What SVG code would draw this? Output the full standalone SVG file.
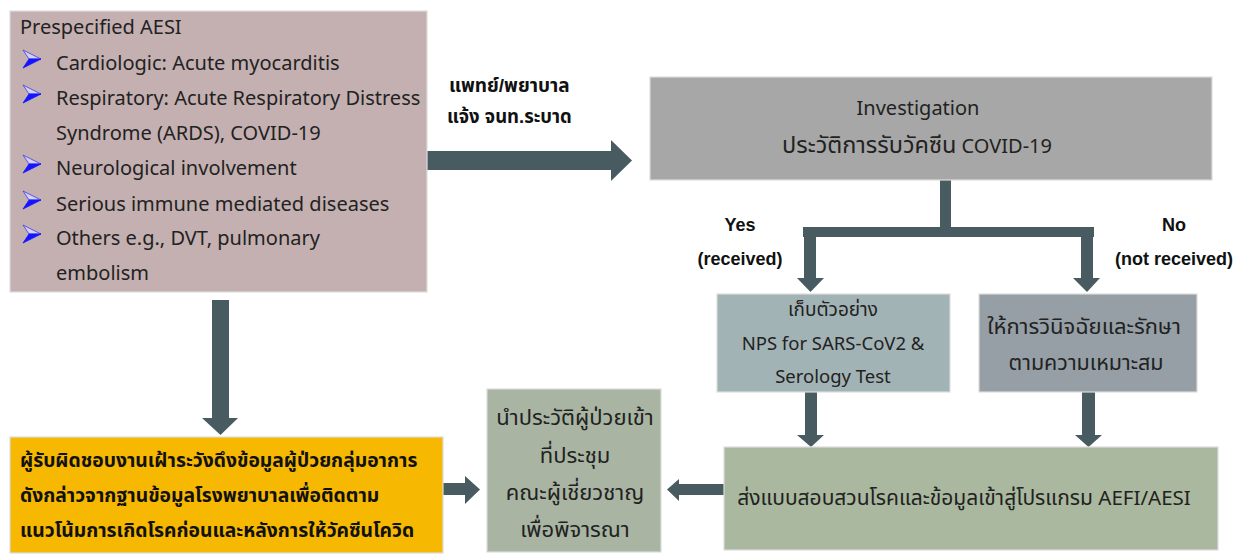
<svg xmlns="http://www.w3.org/2000/svg" width="1239" height="554" viewBox="0 0 1239 554">
<defs>
<style>
.t{font-family:"Noto Sans","Noto Sans Thai","Liberation Sans",sans-serif;fill:#222;}
.b{font-family:"Liberation Sans","Noto Sans Thai","Noto Sans",sans-serif;font-weight:bold;fill:#111;}
.m{text-anchor:middle;}
.arr{fill:#475b60;}
.box{stroke:#dcdcdc;stroke-width:1.2;}
</style>
<g id="bullet">
<polygon points="0,-9 18,0 6,0" fill="#d8d2f2" stroke="#3a3ae0" stroke-width="0.8"/>
<polygon points="6,0 18,0 0,9" fill="#1414ff" stroke="#1414ff" stroke-width="0.8"/>
</g>
</defs>
<rect width="1239" height="554" fill="#fff"/>

<g id="connectors">
<rect class="arr" x="427" y="151" width="184" height="19"/>
<polygon class="arr" points="611,140 632,160.5 611,181"/>
<rect class="arr" x="212" y="300" width="17" height="118"/>
<polygon class="arr" points="202,418 238,418 220.5,435"/>
<rect class="arr" x="940" y="180" width="11" height="48"/>
<rect class="arr" x="803" y="227" width="291" height="10"/>
<rect class="arr" x="804" y="236" width="12" height="42"/>
<polygon class="arr" points="797,278 824,278 810.5,292"/>
<rect class="arr" x="1081" y="236" width="12" height="42"/>
<polygon class="arr" points="1073,278 1100,278 1087,292"/>
<rect class="arr" x="805" y="392" width="12" height="43"/>
<polygon class="arr" points="797,435 824,435 811,447"/>
<rect class="arr" x="1082" y="392" width="13" height="43"/>
<polygon class="arr" points="1075,435 1102,435 1088.5,447"/>
<rect class="arr" x="443" y="483" width="23" height="12"/>
<polygon class="arr" points="465,476 480,489.5 465,504"/>
<rect class="arr" x="678" y="484" width="46" height="11"/>
<polygon class="arr" points="679,479 667,489.5 679,501"/>
<text class="b" x="449" y="92" font-size="19">แพทย์/พยาบาล</text>
<text class="b" x="447" y="123" font-size="18.5">แจ้ง จนท.ระบาด</text>
<text class="b" x="740" y="231" font-size="18" text-anchor="middle">Yes</text>
<text class="b" x="740" y="265" font-size="18" text-anchor="middle">(received)</text>
<text class="b" x="1174" y="231" font-size="18" text-anchor="middle">No</text>
<text class="b" x="1174" y="265" font-size="18" text-anchor="middle">(not received)</text>
</g>

<g id="aesi">
<rect class="box" x="10" y="11" width="417" height="281" fill="#c4b0b1"/>
<text class="t" x="20" y="34" font-size="20">Prespecified AESI</text>
<use href="#bullet" x="23" y="59"/>
<text class="t" x="56" y="70" font-size="20">Cardiologic: Acute myocarditis</text>
<use href="#bullet" x="23" y="94"/>
<text class="t" x="56" y="105" font-size="20">Respiratory: Acute Respiratory Distress</text>
<text class="t" x="56" y="140" font-size="20">Syndrome (ARDS), COVID-19</text>
<use href="#bullet" x="23" y="164"/>
<text class="t" x="56" y="175" font-size="20">Neurological involvement</text>
<use href="#bullet" x="23" y="200"/>
<text class="t" x="56" y="211" font-size="20">Serious immune mediated diseases</text>
<use href="#bullet" x="23" y="234"/>
<text class="t" x="56" y="245" font-size="20">Others e.g., DVT, pulmonary</text>
<text class="t" x="56" y="280" font-size="20">embolism</text>
</g>

<g id="investigation">
<rect class="box" x="650" y="77" width="562" height="103" fill="#a7a7a7"/>
<text class="t m" x="918" y="115" font-size="20">Investigation</text>
<text class="t m" x="917" y="153" font-size="20"><tspan font-size="23.5">ประวัติการรับวัคซีน</tspan> COVID-19</text>
</g>

<g id="sample">
<rect class="box" x="717" y="294" width="233" height="98" fill="#a2b3b5"/>
<text class="t m" x="833" y="316" font-size="19">เก็บตัวอย่าง</text>
<text class="t m" x="833" y="350" font-size="18.5">NPS for SARS-CoV2 &amp;</text>
<text class="t m" x="833" y="383" font-size="18.5">Serology Test</text>
</g>

<g id="treat">
<rect class="box" x="979" y="294" width="218" height="98" fill="#959fa5"/>
<text class="t m" x="1084" y="334" font-size="22">ให้การวินิจฉัยและรักษา</text>
<text class="t m" x="1086" y="370" font-size="21.5">ตามความเหมาะสม</text>
</g>

<g id="program">
<rect class="box" x="724" y="447" width="494" height="103" fill="#a9b89e"/>
<text class="t m" x="964" y="505" font-size="20.5"><tspan font-size="21">ส่งแบบสอบสวนโรคและข้อมูลเข้าสู่โปรแกรม</tspan> AEFI/AESI</text>
</g>

<g id="committee">
<rect class="box" x="487" y="389" width="174" height="163" fill="#a9b5a2"/>
<text class="t m" x="575" y="425" font-size="22">นำประวัติผู้ป่วยเข้า</text>
<text class="t m" x="575" y="463" font-size="22">ที่ประชุม</text>
<text class="t m" x="575" y="500" font-size="22">คณะผู้เชี่ยวชาญ</text>
<text class="t m" x="575" y="537" font-size="22">เพื่อพิจารณา</text>
</g>

<g id="surveillance">
<rect class="box" x="10" y="437" width="433" height="116" fill="#f6b800"/>
<text class="b" x="20" y="467" font-size="19.3">ผู้รับผิดชอบงานเฝ้าระวังดึงข้อมูลผู้ป่วยกลุ่มอาการ</text>
<text class="b" x="20" y="502" font-size="19.3">ดังกล่าวจากฐานข้อมูลโรงพยาบาลเพื่อติดตาม</text>
<text class="b" x="20" y="537" font-size="19.3">แนวโน้มการเกิดโรคก่อนและหลังการให้วัคซีนโควิด</text>
</g>
</svg>
